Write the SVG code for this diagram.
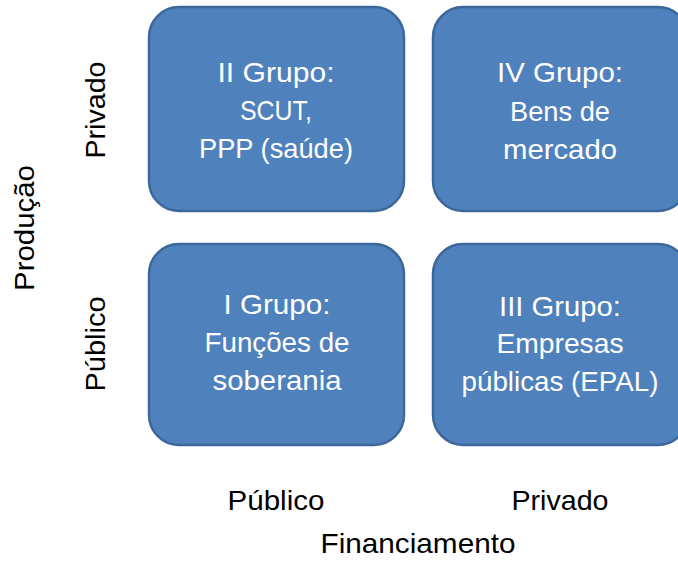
<svg xmlns="http://www.w3.org/2000/svg" width="678" height="564" viewBox="0 0 678 564">
<style>
.box{fill:#4F81BD;stroke:#3C679A;stroke-width:2.5}
.bt{font-family:"Liberation Sans",Arial,sans-serif;font-size:28px;fill:#FFFFFF;text-anchor:middle}
.ax{font-family:"Liberation Sans",Arial,sans-serif;font-size:28px;fill:#000000;text-anchor:middle}
</style>
<rect width="678" height="564" fill="#FFFFFF"/>
<g id="node-II">
<rect class="box" x="149" y="7" width="255" height="204" rx="30" ry="30"/>
<text class="bt" x="276" y="82" textLength="117" lengthAdjust="spacingAndGlyphs">II Grupo:</text>
<text class="bt" x="276" y="120" textLength="72" lengthAdjust="spacingAndGlyphs">SCUT,</text>
<text class="bt" x="276" y="158" textLength="154" lengthAdjust="spacingAndGlyphs">PPP (saúde)</text>
</g>
<g id="node-IV">
<rect class="box" x="433" y="7" width="255" height="204" rx="30" ry="30"/>
<text class="bt" x="560" y="82" textLength="126" lengthAdjust="spacingAndGlyphs">IV Grupo:</text>
<text class="bt" x="560" y="121" textLength="100" lengthAdjust="spacingAndGlyphs">Bens de</text>
<text class="bt" x="560" y="159" textLength="114" lengthAdjust="spacingAndGlyphs">mercado</text>
</g>
<g id="node-I">
<rect class="box" x="149" y="244" width="255" height="201" rx="30" ry="30"/>
<text class="bt" x="277" y="314" textLength="107" lengthAdjust="spacingAndGlyphs">I Grupo:</text>
<text class="bt" x="277" y="352" textLength="145" lengthAdjust="spacingAndGlyphs">Funções de</text>
<text class="bt" x="277" y="390" textLength="129" lengthAdjust="spacingAndGlyphs">soberania</text>
</g>
<g id="node-III">
<rect class="box" x="433" y="244" width="255" height="201" rx="30" ry="30"/>
<text class="bt" x="560" y="316" textLength="122" lengthAdjust="spacingAndGlyphs">III Grupo:</text>
<text class="bt" x="560" y="353" textLength="127" lengthAdjust="spacingAndGlyphs">Empresas</text>
<text class="bt" x="560" y="391" textLength="197" lengthAdjust="spacingAndGlyphs">públicas (EPAL)</text>
</g>
<g id="connectors"></g>
<g id="labels">
<text class="ax" transform="translate(105,110) rotate(-90)" textLength="97" lengthAdjust="spacingAndGlyphs">Privado</text>
<text class="ax" transform="translate(105,344) rotate(-90)" textLength="95" lengthAdjust="spacingAndGlyphs">Público</text>
<text class="ax" transform="translate(34,228) rotate(-90)" textLength="126" lengthAdjust="spacingAndGlyphs">Produção</text>
<text class="ax" x="276" y="510" textLength="97" lengthAdjust="spacingAndGlyphs">Público</text>
<text class="ax" x="560" y="510" textLength="97" lengthAdjust="spacingAndGlyphs">Privado</text>
<text class="ax" x="418" y="553" textLength="195" lengthAdjust="spacingAndGlyphs">Financiamento</text>
</g>
</svg>
